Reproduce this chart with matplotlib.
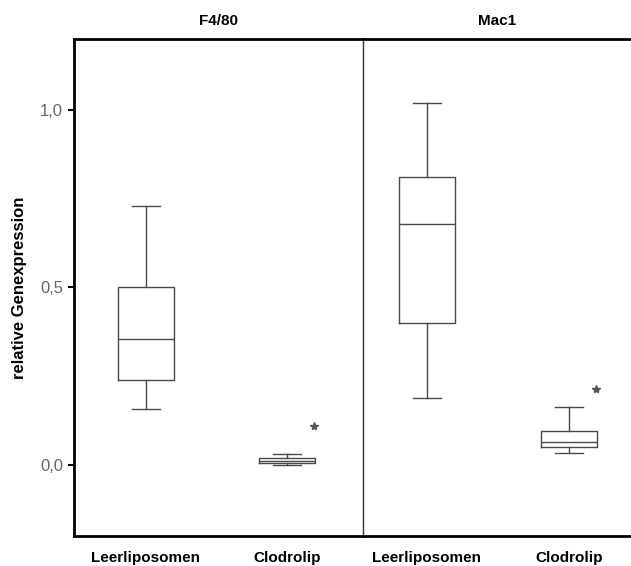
import matplotlib
matplotlib.use("Agg")
import matplotlib.pyplot as plt

plt.rcParams["font.family"] = ["Liberation Sans", "DejaVu Sans"]

panels = ["F4/80", "Mac1"]
groups = ["Leerliposomen", "Clodrolip"]
# per panel: [Leerliposomen, Clodrolip]
whislo = [[0.157, 0.000], [0.19, 0.034]]
q1 = [[0.24, 0.006], [0.40, 0.050]]
med = [[0.355, 0.012], [0.68, 0.065]]
q3 = [[0.50, 0.020], [0.81, 0.096]]
whishi = [[0.73, 0.030], [1.02, 0.163]]
outliers = [[None, 0.11], [None, 0.213]]
yticks = [0.0, 0.5, 1.0]
yticklabels = ["0,0", "0,5", "1,0"]

fig = plt.figure(figsize=(6.31, 5.66), dpi=100)
left, right, bottom, top = 74/631, 631/631, 1-536/566, 1-39/566
divx = 363/631
axes = [fig.add_axes([left, bottom, divx-left, top-bottom]),
        fig.add_axes([divx, bottom, right-divx, top-bottom])]
xlims = [(-0.51, 1.54), (-0.45, 1.437)]

col = "#4a4a4a"
for i, ax in enumerate(axes):
    stats = []
    for j in range(2):
        stats.append(dict(whislo=whislo[i][j], q1=q1[i][j], med=med[i][j],
                          q3=q3[i][j], whishi=whishi[i][j], fliers=[]))
    ax.bxp(stats, positions=[0, 1], widths=0.4, capwidths=0.2, showfliers=False,
           boxprops=dict(color=col, lw=1.0),
           medianprops=dict(color=col, lw=1.0),
           whiskerprops=dict(color=col, lw=1.0),
           capprops=dict(color=col, lw=1.0))
    for j in range(2):
        if outliers[i][j] is not None:
            ax.plot(j + 0.19, outliers[i][j], marker="*", ms=6, color="#555555", ls="none")
    ax.set_xlim(*xlims[i])
    ax.set_ylim(-0.2, 1.2)
    ax.set_title(panels[i], fontweight="bold", fontsize=11, pad=10)
    ax.set_xticks([0, 1])
    ax.set_xticklabels(groups, fontweight="bold", fontsize=11)
    ax.tick_params(axis="x", length=0, pad=11)
    for s in ["top", "bottom"]:
        ax.spines[s].set_linewidth(2)
    ax.spines["right"].set_visible(False)
    if i == 0:
        ax.spines["left"].set_linewidth(2)
        ax.set_yticks(yticks)
        ax.set_yticklabels(yticklabels, color="#666666", fontsize=12)
        ax.tick_params(axis="y", length=4, width=1.5, pad=4)
        ax.set_ylabel("relative Genexpression", fontweight="bold", fontsize=12, labelpad=9)
    else:
        ax.spines["left"].set_linewidth(1)
        ax.spines["left"].set_color("#333333")
        ax.set_yticks([])

fig.savefig("out.png", dpi=100)
